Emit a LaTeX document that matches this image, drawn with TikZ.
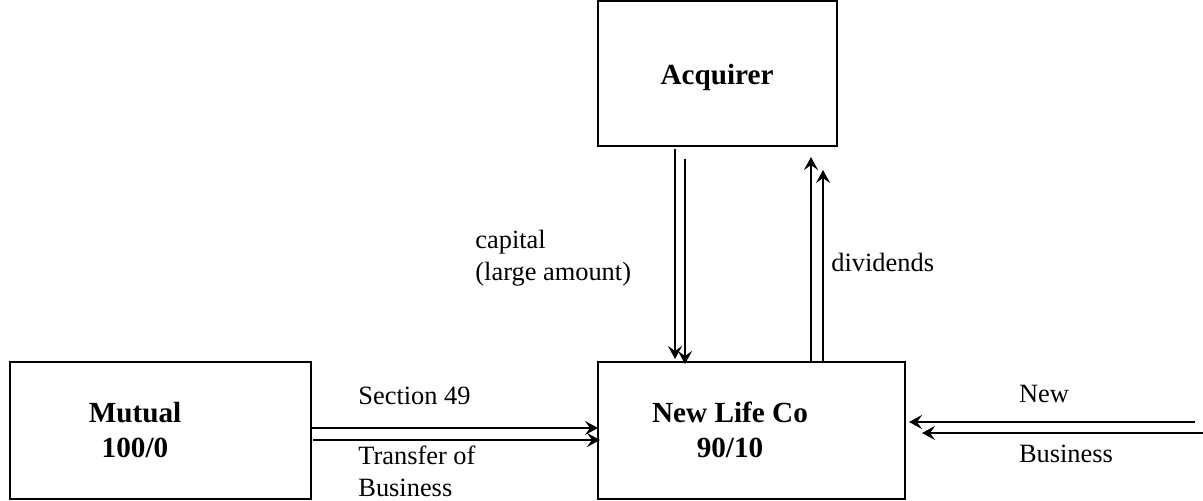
\documentclass[tikz,border=0pt]{standalone}
\usepackage{fontspec}
\setmainfont{Liberation Serif}
\usetikzlibrary{arrows.meta}
\begin{document}
\begin{tikzpicture}[x=0.5pt,y=-0.5pt,
  box/.style={draw,line width=1pt,minimum width=#1,inner sep=0pt},
  flow/.style={line width=1pt,-{Stealth[length=6.5pt,width=7pt,inset=2.5pt]}},
  lbl/.style={font=\fontsize{13.2}{16}\selectfont,inner sep=0pt,align=left},
  title/.style={font=\fontsize{14.6}{17.5}\selectfont\bfseries,inner sep=0pt,align=center}]
\useasboundingbox (0,0) rectangle (1203,501);
\node[box=119.5pt,minimum height=72.5pt] (acq) at (717.5,73.5) {};
\node[box=150.5pt,minimum height=68.5pt] (mut) at (160.5,430.5) {};
\node[box=153.5pt,minimum height=68.5pt] (nlc) at (751.5,430.5) {};
\node[title] (acqt) at (717,77) {Acquirer};
\node[title] (mutt) at (135,430) {Mutual\\100/0};
\node[title] (nlct) at (730,430) {New Life Co\\90/10};
% down arrows
\coordinate (d1s) at (675,149); \coordinate (d1e) at (675,359);
\coordinate (d2s) at (685,159); \coordinate (d2e) at (685,364);
\draw[flow] (d1s) -- (d1e);
\draw[flow] (d2s) -- (d2e);
% up arrows
\coordinate (u1s) at (811,362); \coordinate (u1e) at (811,157);
\coordinate (u2s) at (823,362); \coordinate (u2e) at (823,170);
\draw[flow] (u1s) -- (u1e);
\draw[flow] (u2s) -- (u2e);
% right arrows
\coordinate (r1s) at (311,428); \coordinate (r1e) at (598,428);
\coordinate (r2s) at (313,440); \coordinate (r2e) at (600,440);
\draw[flow] (r1s) -- (r1e);
\draw[flow] (r2s) -- (r2e);
% left arrows
\coordinate (l1s) at (1195,422); \coordinate (l1e) at (909,422);
\coordinate (l2s) at (1203,433); \coordinate (l2e) at (922,433);
\draw[flow] (l1s) -- (l1e);
\draw[flow] (l2s) -- (l2e);
% labels
\node[lbl,anchor=west] (cap) at (475,258) {capital\\(large amount)};
\node[lbl,anchor=west] (div) at (831,262) {dividends};
\node[lbl,anchor=west] (sec) at (358,396) {Section 49};
\node[lbl,anchor=west] (tob) at (358,471) {Transfer of\\Business};
\node[lbl] (new) at (1044,394) {New};
\node[lbl] (bus) at (1066,454) {Business};
\end{tikzpicture}
\end{document}
